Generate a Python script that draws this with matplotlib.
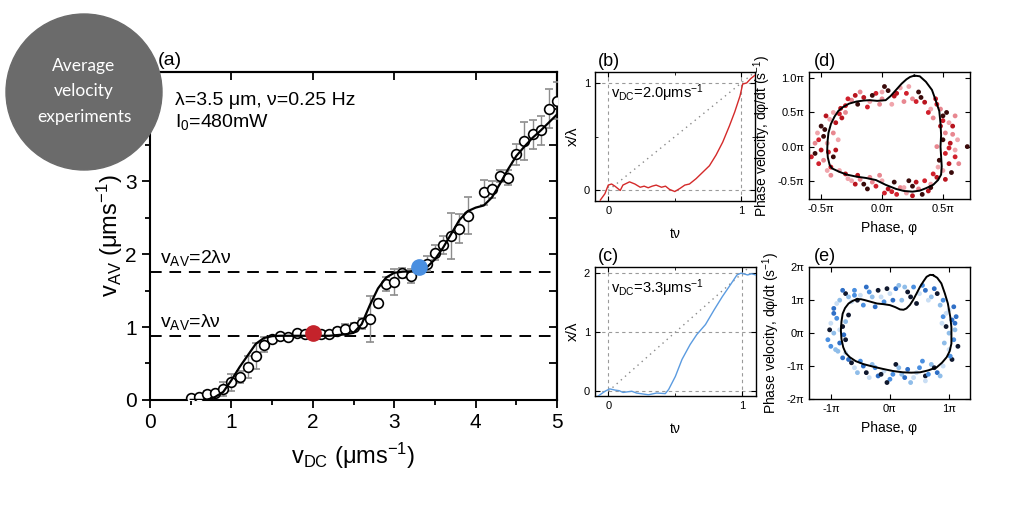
import numpy as np
import matplotlib
matplotlib.use('Agg')
import matplotlib.pyplot as plt
from matplotlib.patches import Circle

plt.rcParams['font.family'] = ['Liberation Sans', 'DejaVu Sans']
plt.rcParams['mathtext.fontset'] = 'custom'
plt.rcParams['mathtext.rm'] = 'Liberation Sans'
plt.rcParams['mathtext.it'] = 'Liberation Sans:italic'
plt.rcParams['mathtext.bf'] = 'Liberation Sans:bold'

# ---- panel (a): average velocity vs drive velocity
v_dc = [0.5, 0.6, 0.7, 0.8, 0.9, 1.0, 1.1, 1.2, 1.3, 1.4, 1.5, 1.6, 1.7, 1.8, 1.9,
        2.1, 2.2, 2.3, 2.4, 2.5, 2.6, 2.7, 2.8, 2.9, 3.0, 3.1, 3.2, 3.4, 3.5, 3.6,
        3.7, 3.8, 3.9, 4.1, 4.2, 4.3, 4.4, 4.5, 4.6, 4.7, 4.8, 4.9, 5.0]
v_av = [0.02, 0.04, 0.085, 0.09, 0.15, 0.24, 0.31, 0.45, 0.6, 0.76, 0.84, 0.88, 0.86, 0.92, 0.9,
        0.9, 0.91, 0.94, 0.97, 1.0, 1.05, 1.11, 1.33, 1.59, 1.62, 1.74, 1.7, 1.87, 2.02, 2.13,
        2.25, 2.35, 2.53, 2.85, 2.89, 3.07, 3.05, 3.37, 3.55, 3.65, 3.7, 4.0, 4.11]
v_err = [0.02, 0.02, 0.03, 0.03, 0.1, 0.12, 0.08, 0.15, 0.18, 0.1, 0.04, 0.03, 0.03, 0.03, 0.03,
         0.03, 0.03, 0.05, 0.07, 0.05, 0.08, 0.32, 0.05, 0.1, 0.18, 0.07, 0.1, 0.1, 0.1, 0.12,
         0.32, 0.2, 0.25, 0.17, 0.12, 0.08, 0.1, 0.15, 0.26, 0.2, 0.2, 0.27, 0.25]
fit_x = [0.5, 0.6, 0.7, 0.8, 0.9, 1.0, 1.1, 1.2, 1.3, 1.4, 1.5, 1.6, 1.8, 2.0, 2.2, 2.4,
         2.5, 2.6, 2.7, 2.8, 2.9, 3.0, 3.1, 3.2, 3.3, 3.4, 3.5, 3.6, 3.7, 3.8, 3.9, 4.0,
         4.1, 4.2, 4.3, 4.4, 4.5, 4.6, 4.7, 4.8, 4.9, 5.0]
fit_y = [0.0, 0.0, 0.0, 0.04, 0.11, 0.27, 0.45, 0.61, 0.77, 0.85, 0.875, 0.88, 0.88, 0.88, 0.88, 0.9,
         0.92, 1.04, 1.3, 1.53, 1.68, 1.745, 1.76, 1.765, 1.78, 1.82, 1.93, 2.09, 2.28, 2.47, 2.59, 2.64,
         2.67, 2.78, 2.97, 3.17, 3.35, 3.48, 3.6, 3.7, 3.81, 3.92]
lam, nu = 3.5, 0.25
red_pt = (2.0, 0.92)
blue_pt = (3.3, 1.82)

# ---- panels (b), (c): position traces
tb = [-0.06, -0.025, 0.0, 0.025, 0.05, 0.09, 0.11, 0.16, 0.2, 0.24, 0.27, 0.3, 0.33, 0.36, 0.4,
      0.43, 0.46, 0.5, 0.54, 0.575, 0.61, 0.66, 0.71, 0.76, 0.81, 0.86, 0.91, 0.95, 0.99,
      1.01, 1.04, 1.07, 1.1]
xb = [-0.09, -0.03, 0.05, 0.06, 0.04, 0.0, 0.05, 0.08, 0.06, 0.03, 0.04, 0.025, 0.04, 0.05, 0.03,
      0.04, 0.01, -0.01, 0.02, 0.05, 0.06, 0.11, 0.17, 0.23, 0.33, 0.45, 0.6, 0.73, 0.88,
      0.99, 1.0, 1.04, 1.07]
tc = [-0.075, -0.025, 0.01, 0.05, 0.08, 0.11, 0.175, 0.21, 0.24, 0.3, 0.36, 0.425, 0.45, 0.5,
      0.55, 0.61, 0.66, 0.725, 0.79, 0.85, 0.91, 0.96, 0.99, 1.04, 1.07, 1.1]
xc = [-0.08, 0.0, 0.04, 0.02, 0.01, -0.02, 0.0, -0.03, -0.04, -0.06, -0.03, -0.04, 0.03, 0.25,
      0.54, 0.79, 0.96, 1.13, 1.38, 1.6, 1.8, 1.97, 2.0, 1.97, 1.99, 1.97]

# ---- panel (d): phase portrait (units of pi)
loop_d_phi = [0.265, 0.31, 0.36, 0.41, 0.44, 0.47, 0.48, 0.485, 0.48, 0.49, 0.485, 0.46, 0.42,
              0.36, 0.31, 0.25, 0.18, 0.115, 0.03, -0.05, -0.13, -0.21, -0.29, -0.35, -0.41,
              -0.43, -0.445, -0.45, -0.447, -0.44, -0.42, -0.39, -0.36, -0.32, -0.27, -0.21,
              -0.15, -0.1, -0.04, 0.03, 0.07, 0.115, 0.16, 0.2, 0.23]
loop_d_vel = [1.04, 1.03, 0.95, 0.83, 0.68, 0.52, 0.34, 0.17, 0.0, -0.29, -0.41, -0.49, -0.56,
              -0.61, -0.645, -0.66, -0.65, -0.62, -0.56, -0.49, -0.46, -0.44, -0.41, -0.37, -0.32,
              -0.27, -0.16, -0.05, 0.08, 0.2, 0.33, 0.44, 0.52, 0.58, 0.63, 0.66,
              0.675, 0.68, 0.67, 0.68, 0.74, 0.83, 0.92, 0.985, 1.02]
scat_d_phi = [-0.30, -0.25, -0.2, -0.15, -0.1, -0.05, 0.0, 0.05, 0.1, 0.15, 0.2, 0.25, 0.3, -0.22,
              0.08, -0.12, 0.18, 0.02, 0.35, 0.4, 0.45, 0.42, 0.5, 0.48, 0.55, 0.38, 0.52, 0.5,
              0.56, 0.6, 0.52, 0.58, 0.47, 0.55, 0.5, 0.6, 0.45, 0.7, 0.45, 0.4, 0.35, 0.3, 0.25,
              0.38, 0.2, 0.42, 0.15, 0.1, 0.05, 0.0, -0.05, -0.1, -0.15, -0.2, -0.25, 0.12, -0.02,
              0.22, -0.3, -0.35, -0.42, -0.48, -0.4, -0.5, -0.45, -0.52, -0.4, -0.47, -0.38, -0.43,
              -0.35, -0.3, -0.55, -0.38, -0.36,
              -0.28, -0.18, -0.08, 0.12, 0.22, 0.28, -0.02, 0.32, -0.34, 0.0,
              0.44, 0.48, 0.53, 0.58, 0.62, 0.55, 0.63, 0.57, 0.52, 0.46, 0.5, 0.6,
              0.33, 0.28, 0.18, 0.08, -0.08, -0.12, -0.22, -0.28, 0.02, -0.18, 0.4, 0.25,
              -0.45, -0.52, -0.55, -0.5, -0.46, -0.4, -0.58, -0.42, -0.48, -0.33, -0.53, -0.44]
scat_d_vel = [0.60, 0.68, 0.62, 0.72, 0.66, 0.78, 0.70, 0.82, 0.74, 0.86, 0.78, 0.70, 0.80, 0.75,
              0.62, 0.58, 0.66, 0.88, 0.65, 0.55, 0.62, 0.42, 0.45, 0.3, 0.35, 0.5, 0.2, 0.1,
              0.05, -0.05, -0.1, 0.18, -0.2, -0.25, -0.35, -0.15, 0.0, 0.0, -0.45, -0.55, -0.5,
              -0.62, -0.58, -0.65, -0.68, -0.4, -0.6, -0.52, -0.62, -0.5, -0.58, -0.45, -0.55, -0.42,
              -0.5, -0.7, -0.42, -0.5, -0.4, -0.35, -0.3, -0.2, -0.15, -0.05, 0.05, 0.1, 0.2, 0.25,
              0.35, 0.4, 0.48, 0.5, -0.1, -0.05, 0.1,
              0.7, 0.8, 0.75, 0.78, 0.88, 0.66, 0.62, 0.72, 0.56, 0.8,
              0.7, 0.55, 0.5, 0.3, 0.1, -0.02, -0.25, -0.38, -0.48, -0.3, 0.38, 0.45,
              -0.7, -0.52, -0.6, -0.66, -0.52, -0.62, -0.55, -0.47, -0.68, -0.48, -0.6, -0.72,
              -0.35, -0.25, 0.05, 0.3, 0.45, 0.5, -0.15, -0.42, 0.15, 0.42, 0.2, -0.08]

# ---- panel (e): phase portrait (units of pi)
loop_e_phi = [0.73, 0.8, 0.87, 0.93, 0.98, 1.02, 1.04, 1.04, 1.01, 0.96, 0.88, 0.79, 0.65, 0.51,
              0.36, 0.22, 0.05, -0.11, -0.28, -0.45, -0.58, -0.68, -0.75, -0.79, -0.82, -0.83,
              -0.82, -0.8, -0.76, -0.7, -0.63, -0.56, -0.49, -0.42, -0.32, -0.22, -0.11, 0.0,
              0.09, 0.17, 0.23, 0.28, 0.34, 0.39, 0.45, 0.51, 0.57, 0.62, 0.68]
loop_e_vel = [1.76, 1.68, 1.51, 1.2, 0.9, 0.5, 0.18, -0.32, -0.55, -0.73, -0.9, -1.04, -1.13, -1.19,
              -1.2, -1.19, -1.15, -1.09, -1.02, -0.94, -0.85, -0.73, -0.6, -0.43, -0.18, 0.08,
              0.35, 0.59, 0.76, 0.9, 0.98, 1.03, 1.03, 1.0, 0.95, 0.9, 0.88, 0.85,
              0.79, 0.72, 0.71, 0.75, 0.86, 1.0, 1.2, 1.41, 1.58, 1.71, 1.77]
scat_e_phi = [-0.95, -0.85, -0.75, -0.6, -0.5, -0.4, -0.3, -0.2, -0.1, 0.0, 0.1, 0.2, 0.3, 0.4,
              0.5, 0.6, 0.7, 0.8, 0.9, -0.65, -0.25, 0.15, 0.45, -0.45, 1.0, 1.05, 1.1, 0.95, 1.08,
              1.0, 1.12, 0.92, 1.05, 0.9, 0.9, 0.8, 0.7, 0.6, 0.5, 0.4, 0.3, 0.2, 0.1, 0.0, -0.1,
              -0.2, -0.3, -0.4, -0.5, -0.6, -0.7, 0.35, -0.05, 0.55, -0.75, -0.85, -0.95, -0.8,
              -0.9, -1.0, -0.78, -0.92, -0.7, -1.05,
              -0.9, -0.8, -0.7, -0.55, -0.35, -0.15, 0.05, 0.25, 0.35, 0.55, 0.65, 0.75, 0.85,
              -0.05, -0.6, 0.95, 1.1, 1.0, 1.15, 1.02, 0.88, 1.08,
              0.85, 0.75, 0.65, 0.45, 0.25, 0.15, -0.15, -0.25, -0.35, -0.45, -0.55, -0.65, 0.05,
              0.6, -0.8, -0.88, -0.75, -1.0, -0.85, -0.95, -0.75, -1.02]
scat_e_vel = [0.75, 1.0, 1.2, 1.3, 1.15, 1.4, 1.1, 1.3, 0.95, 1.2, 1.35, 1.0, 1.25, 1.4,
              1.2, 1.3, 1.1, 1.2, 1.0, 0.95, 0.8, 1.45, 0.9, 0.85, 0.7, 0.4, 0.1, 0.2, -0.2,
              -0.5, 0.5, -0.3, -0.8, 0.5, -1.0, -1.2, -0.95, -1.3, -1.05, -1.35, -1.1, -1.25, -0.95,
              -1.4, -1.15, -1.3, -0.95, -1.2, -0.85, -1.05, -0.8, -1.5, -1.5, -0.85, -0.6, -0.3,
              0.0, 0.2, 0.45, 0.3, -0.05, -0.5, 0.55, -0.2,
              0.9, 1.3, 1.1, 1.0, 1.25, 1.1, 1.0, 1.4, 1.1, 1.45, 1.0, 1.35, 0.85,
              1.35, 1.15, 0.6, 0.3, 0.0, -0.4, -0.7, 0.3, 0.8,
              -1.3, -1.05, -1.25, -1.2, -1.35, -1.05, -1.25, -1.05, -1.35, -1.0, -1.2, -0.9, -1.25,
              -1.45, -0.75, -0.55, -0.2, -0.4, 0.1, 0.6, 0.35, 0.1]

red_cols = ['#d0202c', '#e88790', '#3a0a0a', '#b8141e', '#f0a5ac']
blue_cols = ['#2f6fc6', '#8fbde9', '#10182e', '#4a8fe0', '#c9def4']

fig = plt.figure(figsize=(10.24, 5.12), dpi=100)


def style_axes(ax, lw=1.0, size=7):
    for s in ax.spines.values():
        s.set_linewidth(lw)
    ax.tick_params(which='both', top=True, right=True, labelsize=size)
    ax.tick_params(axis='x', which='both', direction='in')
    ax.tick_params(axis='y', which='both', direction='in')


# (a)
axa = fig.add_axes([0.1465, 0.219, 0.3975, 0.640])
axa.errorbar(v_dc, v_av, yerr=v_err, fmt='o', mfc='white', mec='black', ms=7, mew=1.2,
             ecolor='#8c8c8c', elinewidth=1, capsize=3, capthick=1, zorder=3)
axa.plot(fit_x, fit_y, color='black', lw=1.6, zorder=4)
axa.plot(*red_pt, 'o', color='#c4232b', ms=11, zorder=5)
axa.plot(*blue_pt, 'o', color='#4a8fe0', ms=11, zorder=5)
axa.axhline(lam * nu, color='black', lw=1.4, dashes=(6, 4), zorder=2)
axa.axhline(2 * lam * nu, color='black', lw=1.4, dashes=(6, 4), zorder=2)
axa.set_xlim(0, 5)
axa.set_ylim(0, 4.5)
axa.set_xticks([0, 1, 2, 3, 4, 5])
axa.set_xticks(np.arange(0.5, 5, 1.0), minor=True)
axa.set_yticks([0, 1, 2, 3, 4])
axa.set_yticklabels(['0', '1', '2', '3', ''])   # "4" sits under the badge
axa.set_yticks(np.arange(0.5, 4.5, 1.0), minor=True)
for s in axa.spines.values():
    s.set_linewidth(1.5)
axa.tick_params(which='both', labelsize=15, width=1.3, direction='out')
axa.tick_params(which='major', length=6)
axa.tick_params(which='minor', length=3.5)
# mirrored ticks on top and right point inward
for sec in [axa.secondary_xaxis('top'), axa.secondary_yaxis('right')]:
    sec.tick_params(which='both', direction='in', width=1.3, labelsize=0,
                    labeltop=False, labelright=False)
    sec.tick_params(which='major', length=6)
    sec.tick_params(which='minor', length=3.5)
    sec.spines[:].set_linewidth(1.5)
axa.set_xlabel('v$_{\\rm DC}$ (μms$^{-1}$)', fontsize=17, labelpad=6)
axa.set_ylabel('v$_{\\rm AV}$ (μms$^{-1}$)', fontsize=17, labelpad=0)
axa.text(0.02, 1.01, '(a)', transform=axa.transAxes, fontsize=14, va='bottom')
axa.text(0.061, 0.915, 'λ=3.5 μm, ν=0.25 Hz', transform=axa.transAxes, fontsize=14, va='center')
axa.text(0.061, 0.848, 'I$_0$=480mW', transform=axa.transAxes, fontsize=14, va='center')
axa.text(0.12, 2 * lam * nu + 0.06, 'v$_{\\rm AV}$=2λν', fontsize=14, va='bottom')
axa.text(0.12, lam * nu + 0.06, 'v$_{\\rm AV}$=λν', fontsize=14, va='bottom')

# (b) and (c)
grid_kw = dict(color='#9a9a9a', lw=0.8, dashes=(3, 3), zorder=1)
for pos, t, x, col, top, lab, txt, ext in [
        ([0.581, 0.607, 0.156, 0.252], tb, xb, '#d42a2a', 1.1, '(b)', '2.0', [0, 1]),
        ([0.581, 0.2266, 0.157, 0.2514], tc, xc, '#5b9be0', 2.1, '(c)', '3.3', [0, 1, 2])]:
    ax = fig.add_axes(pos)
    for v in ext:
        ax.axhline(v, **grid_kw)
    ax.axvline(0, **grid_kw)
    ax.axvline(1, **grid_kw)
    ax.plot([0, 1.1], [0, 1.1 * ext[-1]], color='#8a8a8a', lw=1.0, ls=(0, (1, 3)), zorder=1)
    ax.plot(t, x, color=col, lw=1.0, zorder=3)
    ax.set_xlim(-0.1, 1.1)
    ax.set_ylim(-0.1 if top < 2 else -0.08, top)
    ax.set_xticks([0, 1])
    ax.set_xticks([0.5], minor=True)
    ax.set_yticks(ext)
    if top < 2:
        ax.set_yticks([0.5], minor=True)
    style_axes(ax, lw=1.0, size=8)
    ax.set_ylabel('x/λ', fontsize=11, labelpad=3)
    ax.set_xlabel('tν', fontsize=10, labelpad=8)
    ax.text(0.02, 1.02, lab, transform=ax.transAxes, fontsize=13, va='bottom')
    ax.text(0.1, 0.84, 'v$_{\\rm DC}$=' + txt + 'μms$^{-1}$', transform=ax.transAxes,
            fontsize=10.5, va='center')

# (d) and (e)
for pos, lphi, lvel, sphi, svel, cols, xl, yl, xt, yt, xtl, ytl, lab in [
        ([0.790, 0.611, 0.157, 0.248], loop_d_phi, loop_d_vel, scat_d_phi, scat_d_vel, red_cols,
         (-0.6, 0.72), (-0.77, 1.09), [-0.5, 0, 0.5], [-0.5, 0, 0.5, 1.0],
         ['-0.5π', '0.0π', '0.5π'], ['-0.5π', '0.0π', '0.5π', '1.0π'], '(d)'),
        ([0.790, 0.2207, 0.157, 0.2573], loop_e_phi, loop_e_vel, scat_e_phi, scat_e_vel, blue_cols,
         (-1.37, 1.35), (-2, 2), [-1, 0, 1], [-2, -1, 0, 1, 2],
         ['-1π', '0π', '1π'], ['-2π', '-1π', '0π', '1π', '2π'], '(e)')]:
    ax = fig.add_axes(pos)
    c = [cols[i % len(cols)] for i in range(len(sphi))]
    ax.scatter(sphi, svel, s=12, c=c, linewidths=0, zorder=2)
    ax.plot(lphi + lphi[:1], lvel + lvel[:1], color='black', lw=1.4, zorder=3)
    ax.set_xlim(*xl)
    ax.set_ylim(*yl)
    ax.set_xticks(xt)
    ax.set_xticklabels(xtl)
    ax.set_yticks(yt)
    ax.set_yticklabels(ytl)
    style_axes(ax, lw=1.0, size=8)
    ax.set_xlabel('Phase, φ', fontsize=10, labelpad=5)
    ax.set_ylabel('Phase velocity, dφ/dt (s$^{-1}$)', fontsize=10, labelpad=3)
    ax.text(0.03, 1.02, lab, transform=ax.transAxes, fontsize=13, va='bottom')

# overlay badge
ov = fig.add_axes([0, 0, 1, 1], zorder=10)
ov.set_xlim(0, 1024)
ov.set_ylim(512, 0)
ov.axis('off')
ov.patch.set_visible(False)
ov.add_patch(Circle((84, 92), 78, color='#6b6b6b'))
for yy, w in zip([66, 91, 117], ['Average', 'velocity', 'experiments']):
    ov.text(84, yy, w, color='white', fontsize=12.5, ha='center', va='center', family='Lato')

fig.savefig('out.png', dpi=100)
